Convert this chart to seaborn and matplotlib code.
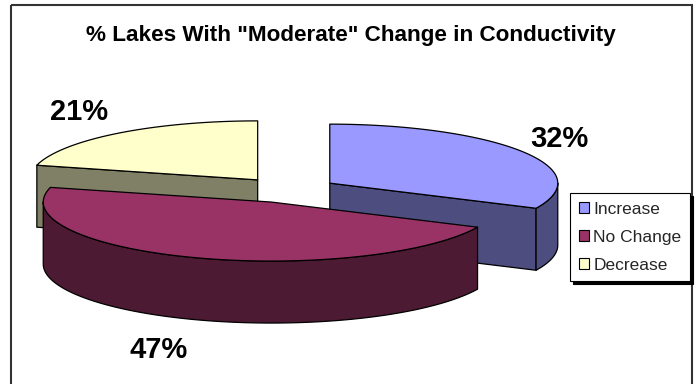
import numpy as np
import matplotlib
matplotlib.use("Agg")
import matplotlib.pyplot as plt
import seaborn as sns
from matplotlib.patches import Polygon, Patch, Rectangle

# ---- data ----
categories = ["Increase", "No Change", "Decrease"]
values = [32, 47, 21]
pct_labels = ["32%", "47%", "21%"]
title = '% Lakes With "Moderate" Change in Conductivity'
top_colors = ["#9999FF", "#993366", "#FFFFCC"]
side_colors = ["#4D4D80", "#4D1A33", "#808066"]

sns.set_style("white")
plt.rcParams["font.family"] = ["Liberation Sans", "DejaVu Sans"]
palette_top = sns.color_palette(top_colors)
palette_side = sns.color_palette(side_colors)

W, H = 696, 384
fig = plt.figure(figsize=(W / 100, H / 100), dpi=100)
ax = fig.add_axes([0, 0, 1, 1])
ax.set_xlim(0, W)
ax.set_ylim(H, 0)
ax.axis("off")

# pie geometry (pixel space, y down)
cx, cy = 288, 190
rx, ry = 228, 59
depth = 62
explode = 0.217

fr = np.array(values, dtype=float) / sum(values)
ends = np.cumsum(fr) * 360.0
starts = ends - fr * 360.0
mids = (starts + ends) / 2


def arc(c, a0, a1, dz=0.0, n=120):
    t = np.radians(np.linspace(a0, a1, n))
    return np.column_stack([c[0] + rx * np.sin(t), c[1] - ry * np.cos(t) + dz])


def point(c, a, dz=0.0):
    t = np.radians(a)
    return np.array([c[0] + rx * np.sin(t), c[1] - ry * np.cos(t) + dz])


centers = []
for m in mids:
    t = np.radians(m)
    centers.append((cx + explode * rx * np.sin(t), cy - explode * ry * np.cos(t)))

lw = 0.9
order = np.argsort([c[1] for c in centers])
for i in order:
    c = centers[i]
    s, e = starts[i], ends[i]
    top, side = palette_top[i], palette_side[i]
    # radial faces
    if np.sin(np.radians(s)) < -1e-6:
        p0 = np.array(c)
        p1 = point(c, s)
        quad = [p0, p1, p1 + [0, depth], p0 + [0, depth]]
        ax.add_patch(Polygon(quad, closed=True, fc=side, ec="black", lw=lw, joinstyle="round"))
    if np.sin(np.radians(e)) > 1e-6:
        p0 = np.array(c)
        p1 = point(c, e)
        quad = [p0, p1, p1 + [0, depth], p0 + [0, depth]]
        ax.add_patch(Polygon(quad, closed=True, fc=side, ec="black", lw=lw, joinstyle="round"))
    # outer rim
    a0, a1 = max(s, 90.0), min(e, 270.0)
    if a1 > a0:
        upper = arc(c, a0, a1)
        lower = arc(c, a1, a0, dz=depth)
        ax.add_patch(Polygon(np.vstack([upper, lower]), closed=True, fc=side, ec="black",
                             lw=lw, joinstyle="round"))
    # top face
    poly = np.vstack([[c], arc(c, s, e)])
    ax.add_patch(Polygon(poly, closed=True, fc=top, ec="black", lw=lw, joinstyle="round"))

# percentage labels
label_pos = {"Increase": (559, 147), "No Change": (159, 358), "Decrease": (79, 120)}
for cat, lab in zip(categories, pct_labels):
    x, y = label_pos[cat]
    ax.text(x, y, lab, ha="center", va="baseline", fontsize=21, fontweight="bold", color="black")

# title
ax.text(351, 41, title, ha="center", va="baseline", fontsize=16.2, fontweight="bold", color="black")

# chart border
ax.add_patch(Rectangle((11, 5), 681, H + 20, fill=False, ec="#333333", lw=1.5))

# legend
handles = [Patch(fc=palette_top[i], ec="black", lw=0.8, label=categories[i]) for i in range(3)]
leg = ax.legend(handles=handles, loc="upper left", bbox_to_anchor=(570, 193),
                bbox_transform=ax.transData, borderaxespad=0, fontsize=12.5,
                handlelength=0.6, handleheight=0.6, handletextpad=0.25,
                labelspacing=0.75, borderpad=0.5, fancybox=False, frameon=True,
                shadow={"color": "black", "alpha": 1.0})
leg.get_frame().set_edgecolor("black")
leg.get_frame().set_linewidth(0.8)
leg.get_frame().set_facecolor("white")

fig.savefig("out.png", dpi=100)
